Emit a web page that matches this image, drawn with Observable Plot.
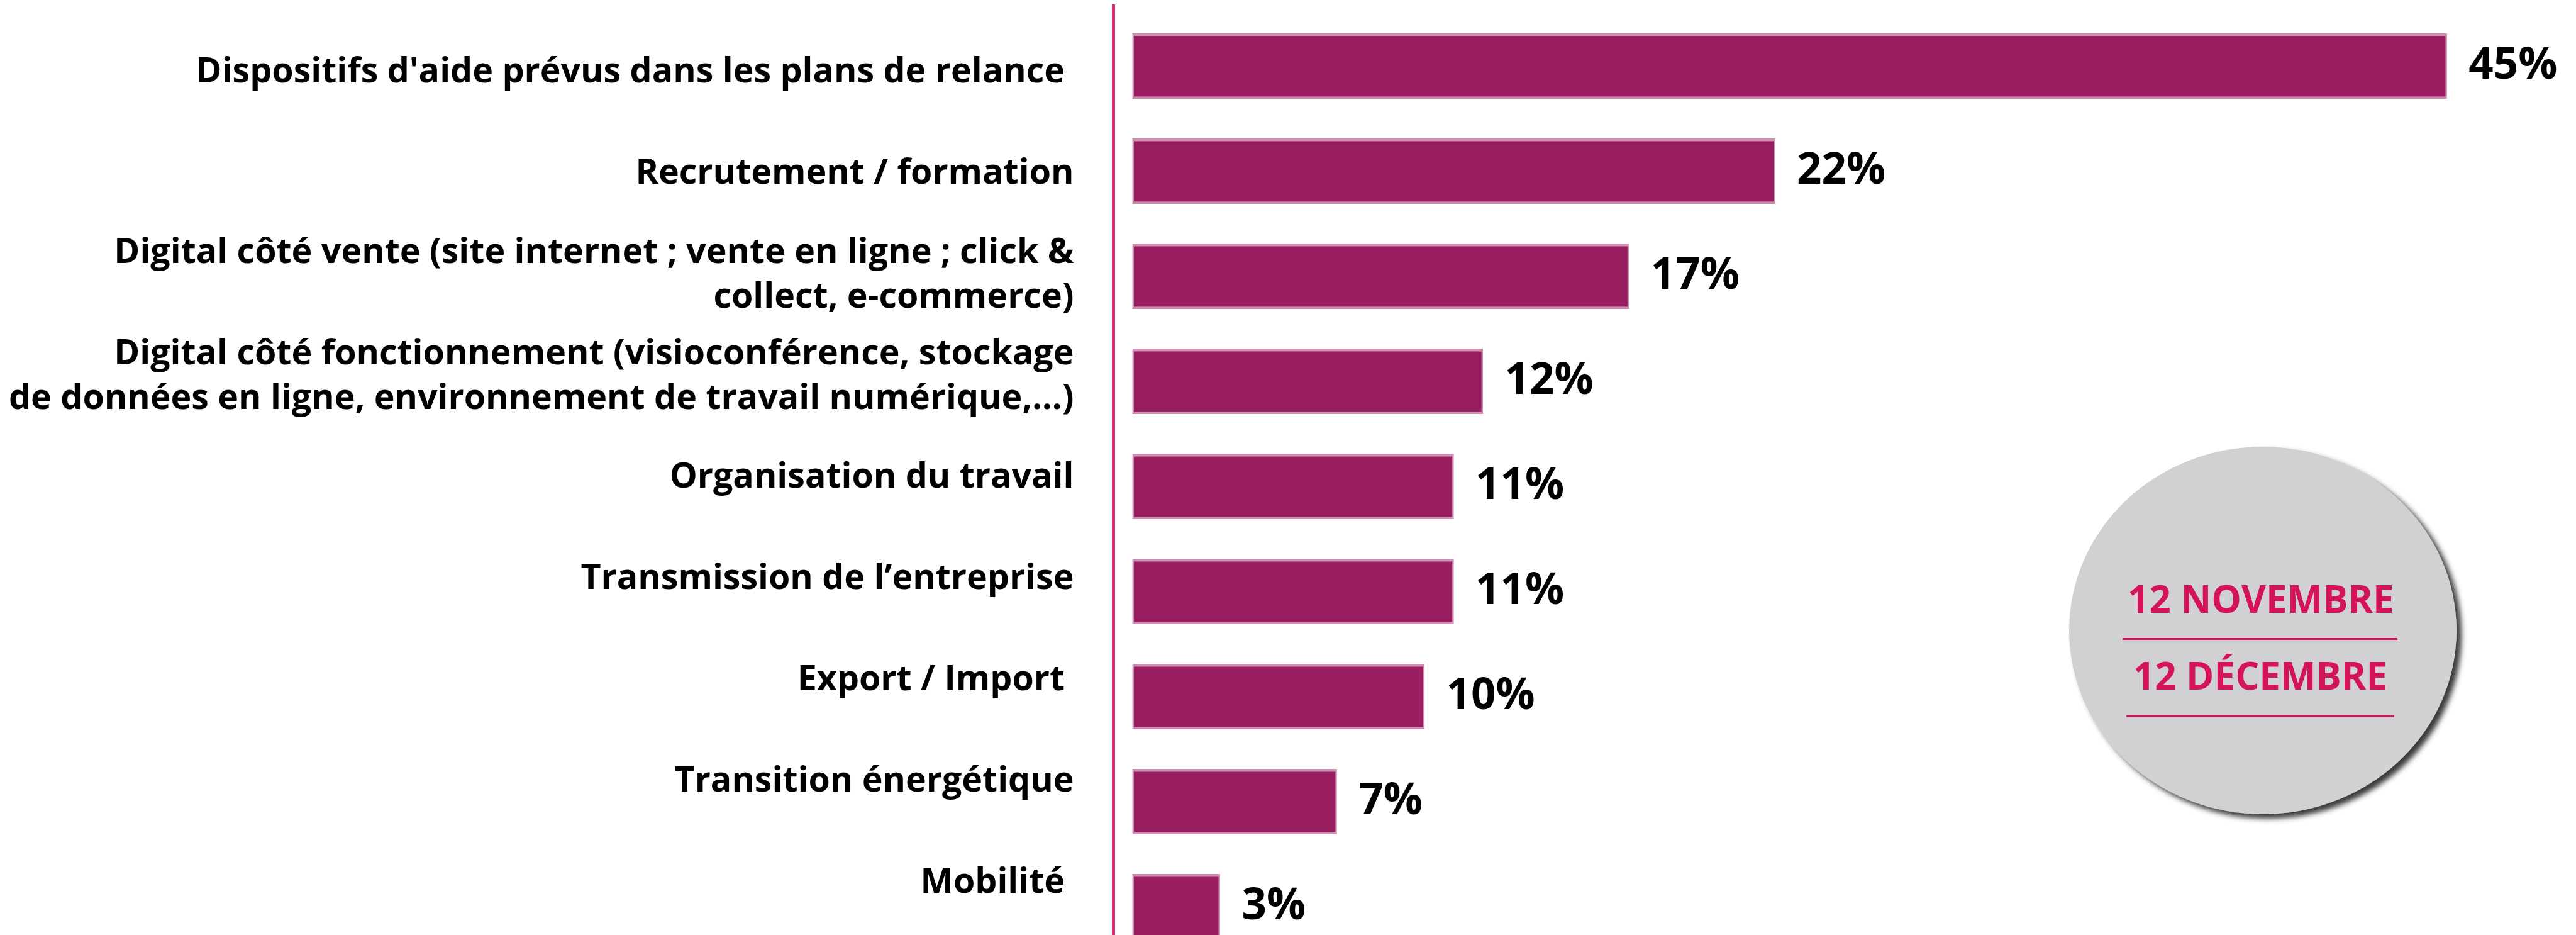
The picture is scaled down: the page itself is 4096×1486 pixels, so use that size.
<!DOCTYPE html>
<html>
<head>
<meta charset="utf-8">
<script src="https://cdn.jsdelivr.net/npm/d3@7"></script>
<script src="https://cdn.jsdelivr.net/npm/@observablehq/plot@0.6"></script>
<style>
  html, body { margin: 0; padding: 0; background: #fff; overflow: hidden; }
  #wrap { position: relative; width: 4096px; height: 1486px; }
  #wrap > svg, #wrap > div { position: absolute; left: 0; top: 0; }
</style>
</head>
<body>
<div id="wrap"></div>
<script>
// ---- data ----
const categories = [
  "Dispositifs d'aide prévus dans les plans de relance ",
  "Recrutement / formation",
  "Digital côté vente (site internet ; vente en ligne ; click &\ncollect, e-commerce)",
  "Digital côté fonctionnement (visioconférence, stockage\nde données en ligne, environnement de travail numérique,...)",
  "Organisation du travail",
  "Transmission de l’entreprise",
  "Export / Import ",
  "Transition énergétique",
  "Mobilité "
];
const values = [45, 22, 17, 12, 11, 11, 10, 7, 3];
const badgeLines = ["12 NOVEMBRE", "12 DÉCEMBRE"];

const data = categories.map((c, i) => ({category: c, value: values[i]}));

const W = 4096, H = 1486;
const FONT = "'Open Sans', 'DejaVu Sans', sans-serif";
const wrap = document.getElementById("wrap");

// ---- bars, values, vertical axis ----
const main = Plot.plot({
  width: W, height: H,
  marginLeft: 1770, marginTop: 9, marginRight: 0, marginBottom: 0,
  x: {domain: [0, 45], range: [1800.6, 3890.8], axis: null},
  y: {domain: categories, range: [18, 1527.3], paddingInner: 0.377, paddingOuter: 0.1885, align: 0.5, axis: null},
  style: {background: "transparent", fontFamily: FONT},
  marks: [
    Plot.frame({anchor: "left", stroke: "#d81b6a", strokeWidth: 4.8}),
    Plot.barX(data, {x: "value", y: "category", fill: "#cc8fb2"}),
    Plot.barX(data, {x: "value", y: "category", fill: "#981e5f",
      insetTop: 4.5, insetBottom: 3.6, insetLeft: 2.4, insetRight: 2.4}),
    Plot.text(data, {x: "value", y: "category", text: d => `${d.value}%`,
      textAnchor: "start", dx: 34, dy: -3, fontSize: 69, fontWeight: 700, fill: "#000"})
  ]
});
wrap.appendChild(main);

// ---- category labels (own vertical placement) ----
const labels = Plot.plot({
  width: W, height: H,
  marginLeft: 0, marginTop: 0, marginBottom: 0, marginRight: W - 1707,
  y: {type: "point", domain: categories, range: [107.5, 1397.1], padding: 0, axis: null},
  style: {background: "transparent", fontFamily: FONT},
  marks: [
    Plot.text(data, {y: "category", text: "category", frameAnchor: "right", textAnchor: "end",
      fontSize: 55.5, fontWeight: 700, lineHeight: 1.277, fill: "#000"})
  ]
});
wrap.appendChild(labels);

// ---- date badge ----
const badge = d3.create("svg").attr("width", W).attr("height", H);
const f = badge.append("defs").append("filter").attr("id", "sh")
  .attr("x", "-20%").attr("y", "-20%").attr("width", "150%").attr("height", "150%");
f.append("feGaussianBlur").attr("in", "SourceAlpha").attr("stdDeviation", 4).attr("result", "b");
f.append("feOffset").attr("in", "b").attr("dx", 8).attr("dy", 7).attr("result", "o");
f.append("feFlood").attr("flood-color", "#3a3a3a").attr("result", "c");
f.append("feComposite").attr("in", "c").attr("in2", "o").attr("operator", "in").attr("result", "s");
const m = f.append("feMerge");
m.append("feMergeNode").attr("in", "s");
m.append("feMergeNode").attr("in", "SourceGraphic");
badge.append("ellipse").attr("cx", 3598).attr("cy", 1002).attr("rx", 308).attr("ry", 292)
  .attr("fill", "#d1d1d3").attr("filter", "url(#sh)");
const pink = "#d4145a";
badge.append("text").attr("x", 3595).attr("y", 974).attr("text-anchor", "middle")
  .attr("font-family", FONT).attr("font-size", 60).attr("font-weight", 700).attr("fill", pink)
  .text(badgeLines[0]);
badge.append("line").attr("x1", 3375).attr("x2", 3812).attr("y1", 1015.5).attr("y2", 1015.5)
  .attr("stroke", pink).attr("stroke-width", 2.8);
badge.append("text").attr("x", 3594).attr("y", 1096).attr("text-anchor", "middle")
  .attr("font-family", FONT).attr("font-size", 60).attr("font-weight", 700).attr("fill", pink)
  .text(badgeLines[1]);
badge.append("line").attr("x1", 3381).attr("x2", 3807).attr("y1", 1138).attr("y2", 1138)
  .attr("stroke", pink).attr("stroke-width", 2.8);
wrap.appendChild(badge.node());
</script>
</body>
</html>
